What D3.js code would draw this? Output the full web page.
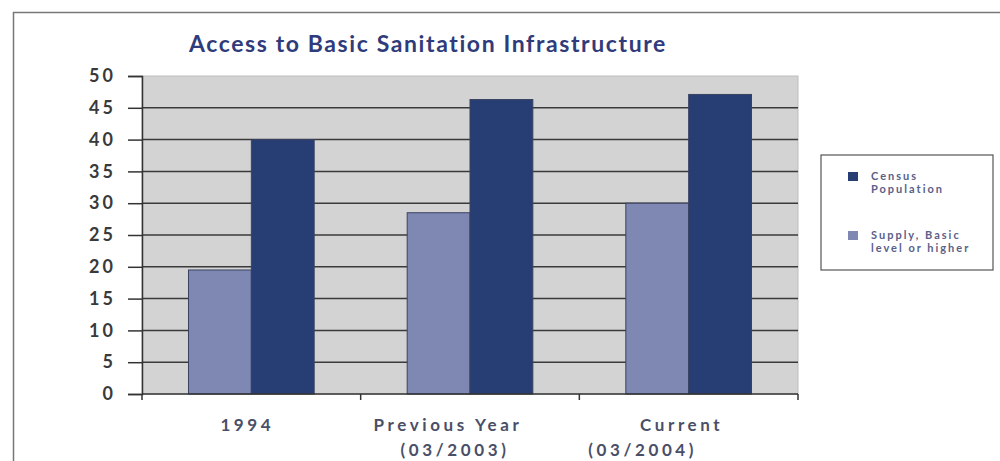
<!DOCTYPE html>
<html>
<head>
<meta charset="utf-8">
<script src="https://cdn.jsdelivr.net/npm/d3@7"></script>
<style>
  body { margin: 0; background: #fff; }
  svg { display: block; font-family: Lato, "Open Sans", sans-serif; }
</style>
</head>
<body>
<div id="chart"></div>
<script>
// data
const categories = ['1994', 'Previous Year|(03/2003)', 'Current|(03/2004)'];
const seriesNames = ['Supply, Basic level or higher', 'Census Population'];
const supply = [19.5, 28.5, 30];
const census = [40, 46.3, 47.1];
const yTicks = [0, 5, 10, 15, 20, 25, 30, 35, 40, 45, 50];

const [width, height] = [1000, 461];
const plot = { left: 142, right: 798, top: 76, bottom: 394 };
const colors = { supply: '#7e88b2', census: '#273e74' };

const svg = d3.select('#chart').append('svg')
    .attr('width', width)
    .attr('height', height);

// outer frame
svg.append('rect')
    .attr('x', 13.5).attr('y', 12.5)
    .attr('width', 1000).attr('height', 480)
    .attr('fill', 'none')
    .attr('stroke', '#777')
    .attr('stroke-width', 1.5);

// title
svg.append('text')
    .attr('x', 428).attr('y', 52)
    .attr('text-anchor', 'middle')
    .attr('fill', '#2f3b7a')
    .style('font-size', '23px')
    .style('font-weight', 'bold')
    .style('letter-spacing', '1.6px')
    .text('Access to Basic Sanitation Infrastructure');

const x0 = d3.scaleBand()
    .domain(categories)
    .range([plot.left, plot.right]);
const x1 = d3.scaleBand()
    .domain(['supply', 'census'])
    .range([0, x0.bandwidth()])
    .paddingOuter(0.74);
const y = d3.scaleLinear()
    .domain([0, 50])
    .range([plot.bottom, plot.top]);

// plot background
svg.append('rect')
    .attr('x', plot.left).attr('y', plot.top)
    .attr('width', plot.right - plot.left)
    .attr('height', plot.bottom - plot.top)
    .attr('fill', '#d3d3d3')
    .attr('stroke', '#bdbdbd');

// gridlines
svg.append('g')
    .selectAll('line')
    .data(yTicks.filter(d => d > 0 && d < 50))
    .enter()
    .append('line')
    .attr('x1', plot.left).attr('x2', plot.right)
    .attr('y1', d => y(d)).attr('y2', d => y(d))
    .attr('stroke', '#3a3a3a')
    .attr('stroke-width', 1.5);

// bars
const rows = categories.map((c, i) => ({ cat: c, supply: supply[i], census: census[i] }));
svg.append('g')
    .selectAll('g')
    .data(rows)
    .enter()
    .append('g')
    .attr('transform', d => `translate(${x0(d.cat)},0)`)
    .selectAll('rect')
    .data(d => ['supply', 'census'].map(k => ({ key: k, value: d[k] })))
    .enter()
    .append('rect')
    .attr('x', d => x1(d.key))
    .attr('width', x1.bandwidth())
    .attr('y', d => y(d.value))
    .attr('height', d => y(0) - y(d.value))
    .attr('fill', d => colors[d.key])
    .attr('stroke', '#3b4160')
    .attr('stroke-width', 1);

// y axis
const yAxis = svg.append('g')
    .attr('transform', `translate(${plot.left},0)`)
    .call(d3.axisLeft(y).tickValues(yTicks).tickSize(14).tickPadding(12));
yAxis.select('.domain').attr('stroke', '#333').attr('stroke-width', 1.5);
yAxis.selectAll('.tick line').attr('stroke', '#333').attr('stroke-width', 1.5);
yAxis.selectAll('.tick text')
    .attr('fill', '#3a3a3a')
    .style('font-size', '18px')
    .style('font-weight', 'bold')
    .style('letter-spacing', '3px')
    .style('font-family', 'Lato, "Open Sans", sans-serif');

// x axis: ticks at category boundaries
const xAxis = svg.append('g');
xAxis.append('line')
    .attr('x1', plot.left).attr('x2', plot.right)
    .attr('y1', plot.bottom).attr('y2', plot.bottom)
    .attr('stroke', '#333').attr('stroke-width', 1.5);
const bounds = categories.map(c => x0(c)).concat([x0.range()[1]]);
xAxis.selectAll('line.tick')
    .data(bounds)
    .enter()
    .append('line')
    .attr('class', 'tick')
    .attr('x1', d => d).attr('x2', d => d)
    .attr('y1', plot.bottom).attr('y2', plot.bottom + 6)
    .attr('stroke', '#333').attr('stroke-width', 1.5);

// category labels (two-line, second line shifted like the original)
const lineShift = [[-4], [-22, -15], [-7, -46]];
const labels = xAxis.selectAll('text.cat')
    .data(categories)
    .enter()
    .append('text')
    .attr('class', 'cat')
    .attr('text-anchor', 'middle')
    .attr('fill', '#4a4f68')
    .style('font-size', '17px')
    .style('font-weight', 'bold')
    .style('letter-spacing', '3.6px');
labels.each(function (d, i) {
    d3.select(this).selectAll('tspan')
        .data(d.split('|'))
        .enter()
        .append('tspan')
        .attr('x', (t, j) => x0(d) + x0.bandwidth() / 2 + lineShift[i][j])
        .attr('y', (t, j) => 431 + j * 25)
        .text(t => t);
});

// legend
const legend = svg.append('g').attr('transform', 'translate(821,155)');
legend.append('rect')
    .attr('width', 172).attr('height', 115)
    .attr('fill', '#fff')
    .attr('stroke', '#555')
    .attr('stroke-width', 1.2);
const legendItems = [
    { key: 'census', lines: ['Census', 'Population'] },
    { key: 'supply', lines: ['Supply, Basic', 'level or higher'] }
];
const li = legend.selectAll('g.item')
    .data(legendItems)
    .enter()
    .append('g')
    .attr('class', 'item')
    .attr('transform', (d, i) => `translate(27,${17 + i * 59})`);
li.append('rect')
    .attr('width', 10).attr('height', 9)
    .attr('fill', d => colors[d.key]);
li.append('text')
    .attr('fill', '#5a6088')
    .style('font-size', '11px')
    .style('font-weight', 'bold')
    .style('letter-spacing', '2px')
    .selectAll('tspan')
    .data(d => d.lines)
    .enter()
    .append('tspan')
    .attr('x', 23)
    .attr('y', (t, j) => 8 + j * 13)
    .text(t => t);
</script>
</body>
</html>
